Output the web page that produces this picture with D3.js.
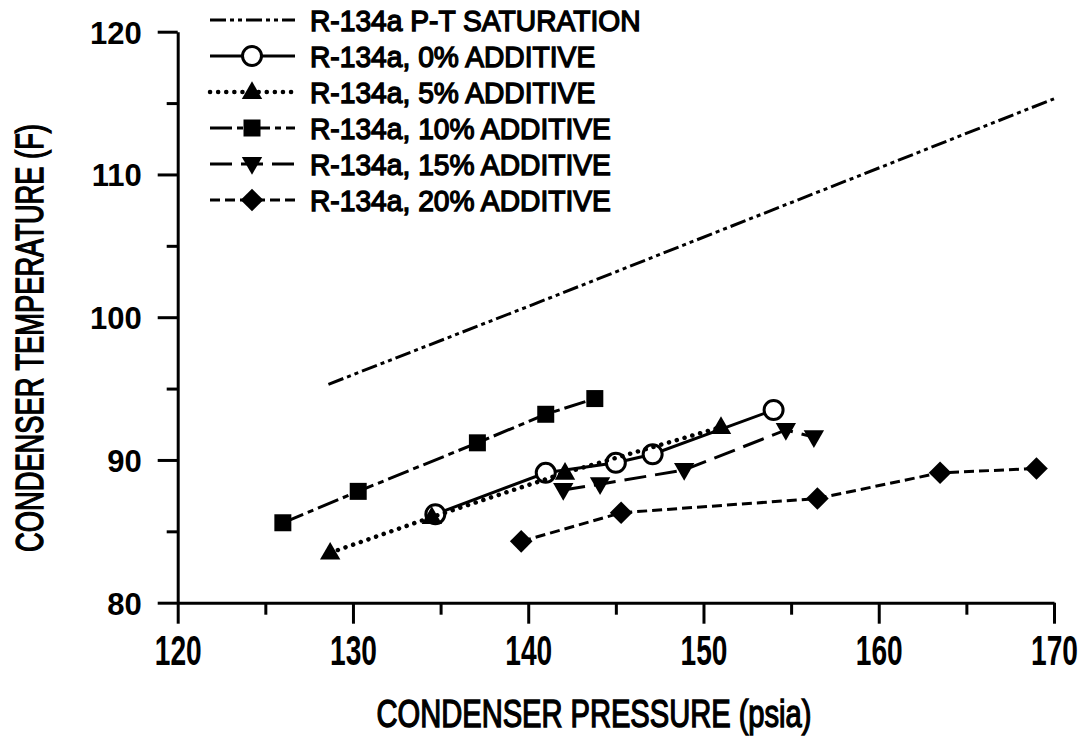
<!DOCTYPE html>
<html>
<head>
<meta charset="utf-8">
<script src="https://cdn.jsdelivr.net/npm/d3@7/dist/d3.min.js"></script>
<style>
  body { margin: 0; background: #fff; }
  svg text { font-family: "Liberation Sans", Arial, sans-serif; fill: #000; }
  .axis text { font-weight: bold; }
  .title, .legend text { stroke: #000; stroke-width: 1.4; }
  .axis path, .axis line { stroke: #000; stroke-width: 3; }
</style>
</head>
<body>
<script>
// axis ticks
var pressureTicks = [120, 130, 140, 150, 160, 170];
var pressureMinor = [125, 135, 145, 155, 165];
var tempTicks = [80, 90, 100, 110, 120];
var tempMinor = [85, 95, 105, 115];

// R-134a P-T saturation
var satP = [128.6, 140.3, 170];
var satT = [95.3, 100.9, 115.3];

// measured points, pressure (psia) / temperature (F)
var p0 = [134.7, 141.0, 145.0, 147.1, 154.0];
var t0 = [86.2, 89.1, 89.8, 90.4, 93.5];
var p5 = [128.7, 134.5, 142.1, 151.0];
var t5 = [83.5, 86.0, 89.1, 92.3];
var p10 = [126.0, 130.3, 137.1, 141.0, 143.8];
var t10 = [85.6, 87.8, 91.2, 93.2, 94.3];
var p15 = [142.0, 144.1, 148.9, 154.7, 156.3];
var t15 = [87.9, 88.3, 89.3, 92.1, 91.6];
var p20 = [139.6, 145.3, 156.5, 163.5, 169.0];
var t20 = [84.3, 86.3, 87.3, 89.1, 89.4];

var legendLabels = ["R-134a P-T SATURATION", "R-134a, 0% ADDITIVE", "R-134a, 5% ADDITIVE",
  "R-134a, 10% ADDITIVE", "R-134a, 15% ADDITIVE", "R-134a, 20% ADDITIVE"];

var xTitle = "CONDENSER PRESSURE (psia)";
var yTitle = "CONDENSER TEMPERATURE (F)";

// styles
var styles = [
  { dash: "16,4,4,4,4,4", marker: null },
  { dash: null, marker: "circle" },
  { dash: "0.1,8", cap: "round", width: 4.5, marker: "up" },
  { dash: "22,5,6,5", marker: "square" },
  { dash: "22,9", marker: "down" },
  { dash: "10,5", marker: "diamond" }
];

function zip(ps, ts) { return ps.map(function(p, i) { return { p: p, t: ts[i] }; }); }

var series = [
  zip(satP, satT), zip(p0, t0), zip(p5, t5), zip(p10, t10), zip(p15, t15), zip(p20, t20)
];

var W = 1086, H = 738;
var svg = d3.select("body").append("svg").attr("width", W).attr("height", H);

var x = d3.scaleLinear().domain([120, 170]).range([177.7, 1054]);
var y = d3.scaleLinear().domain([80, 120]).range([602.7, 31.7]);

// x axis
var gx = svg.append("g").attr("class", "axis").attr("transform", "translate(0," + y(80) + ")")
  .call(d3.axisBottom(x).tickValues(pressureTicks).tickSize(21).tickSizeOuter(0).tickFormat(d3.format("d")));
gx.selectAll("text")
  .attr("y", null).attr("dy", null)
  .attr("transform", "translate(0,62) scale(0.67,1)")
  .style("font-size", "42px");
svg.append("g").attr("class", "axis").attr("transform", "translate(0," + y(80) + ")")
  .call(d3.axisBottom(x).tickValues(pressureMinor).tickSize(12).tickFormat(""))
  .select(".domain").remove();

// y axis
var gy = svg.append("g").attr("class", "axis").attr("transform", "translate(" + x(120) + ",0)")
  .call(d3.axisLeft(y).tickValues(tempTicks).tickSize(20).tickSizeOuter(0).tickFormat(d3.format("d")));
gy.selectAll("text")
  .attr("x", null).attr("dy", null)
  .attr("text-anchor", "end")
  .attr("transform", "translate(-36,11.5) scale(0.97,1)")
  .style("font-size", "32px");
svg.append("g").attr("class", "axis").attr("transform", "translate(" + x(120) + ",0)")
  .call(d3.axisLeft(y).tickValues(tempMinor).tickSize(11).tickFormat(""))
  .select(".domain").remove();
svg.selectAll(".axis text").attr("fill", "#000");

// titles
svg.append("text")
  .attr("class", "title")
  .attr("text-anchor", "middle")
  .attr("transform", "translate(594,727) scale(0.766,1)")
  .style("font-size", "38px")
  .text(xTitle);
svg.append("text")
  .attr("class", "title")
  .attr("text-anchor", "middle")
  .attr("transform", "translate(43,338) rotate(-90) scale(0.718,1)")
  .style("font-size", "38px")
  .text(yTitle);

function drawMarker(g, type) {
  if (type === "circle") {
    g.append("circle").attr("r", 9.5).attr("fill", "#fff").attr("stroke", "#000").attr("stroke-width", 3);
  } else if (type === "square") {
    g.append("path").attr("d", d3.symbol().type(d3.symbolSquare).size(289)()).attr("fill", "#000");
  } else if (type === "up") {
    g.append("path").attr("d", d3.symbol().type(d3.symbolTriangle).size(180)())
      .attr("transform", "translate(0,1)").attr("fill", "#000");
  } else if (type === "down") {
    g.append("path").attr("d", d3.symbol().type(d3.symbolTriangle).size(180)())
      .attr("transform", "translate(0,-1) rotate(180)").attr("fill", "#000");
  } else if (type === "diamond") {
    g.append("path").attr("d", d3.symbol().type(d3.symbolSquare).size(256)())
      .attr("transform", "rotate(45)").attr("fill", "#000");
  }
}

var line = d3.line().x(function(d) { return x(d.p); }).y(function(d) { return y(d.t); });

series.forEach(function(data, i) {
  var s = styles[i];
  svg.append("path")
    .datum(data)
    .attr("d", line)
    .attr("fill", "none")
    .attr("stroke", "#000")
    .attr("stroke-width", s.width || 3)
    .attr("stroke-linecap", s.cap || "butt")
    .attr("stroke-dasharray", s.dash);
  if (s.marker) {
    svg.selectAll(".m" + i).data(data).enter().append("g")
      .attr("class", "m" + i)
      .attr("transform", function(d) { return "translate(" + x(d.p) + "," + y(d.t) + ")"; })
      .each(function() { drawMarker(d3.select(this), s.marker); });
  }
});

// legend
var legend = svg.append("g").attr("class", "legend");
legendLabels.forEach(function(label, i) {
  var s = styles[i];
  var cy = 20 + i * 36;
  legend.append("line")
    .attr("x1", 210).attr("x2", 295).attr("y1", cy).attr("y2", cy)
    .attr("stroke", "#000")
    .attr("stroke-width", s.width || 3)
    .attr("stroke-linecap", s.cap || "butt")
    .attr("stroke-dasharray", s.dash);
  if (s.marker) {
    var g = legend.append("g").attr("transform", "translate(252," + cy + ")");
    drawMarker(g, s.marker);
  }
  legend.append("text")
    .attr("transform", "translate(310," + (cy + 11) + ") scale(0.94,1)")
    .style("font-size", "30px")
    .text(label);
});
</script>
</body>
</html>
